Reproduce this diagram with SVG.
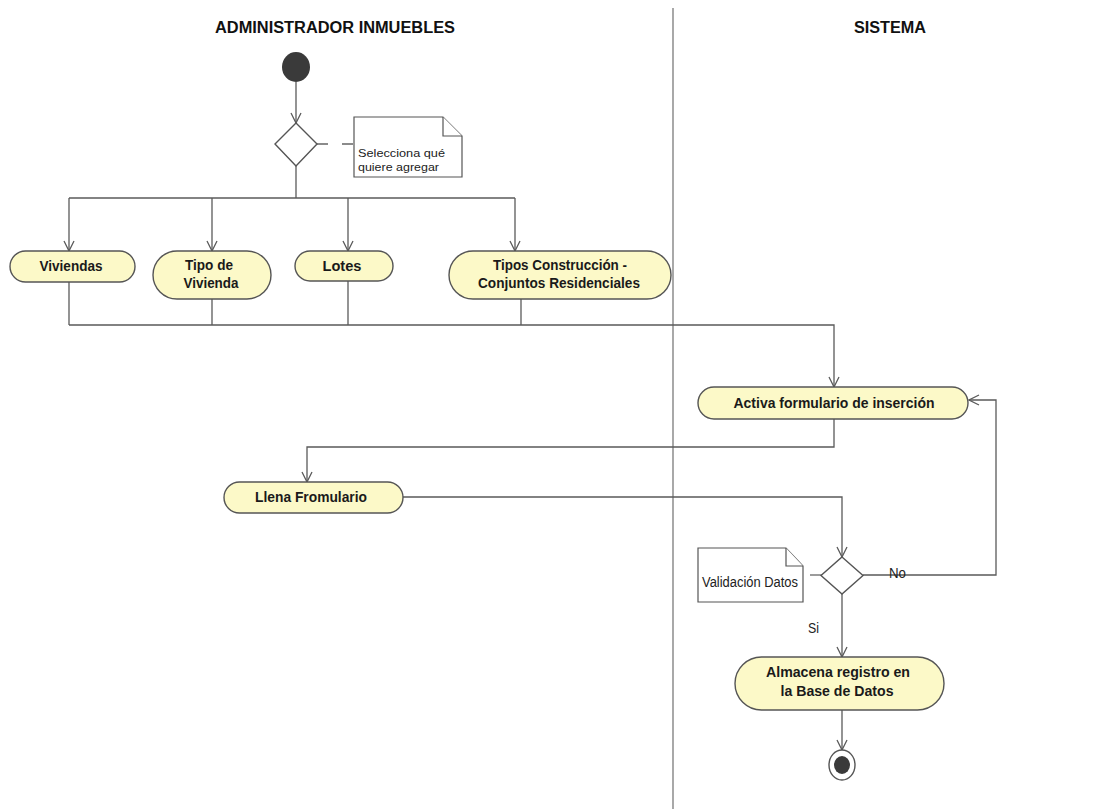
<svg xmlns="http://www.w3.org/2000/svg" width="1102" height="809" viewBox="0 0 1102 809">
<style>
.act{fill:#fcf9c8;stroke:#555;stroke-width:1.4}
.at{font-family:"Liberation Sans",Arial,sans-serif;font-weight:bold;font-size:15px;fill:#1a1a1a;text-anchor:middle}
.hd{font-family:"Liberation Sans",Arial,sans-serif;font-weight:bold;font-size:16px;fill:#111;text-anchor:middle}
.nt{font-family:"Liberation Sans",Arial,sans-serif;font-size:11px;fill:#222}
.lb{font-family:"Liberation Sans",Arial,sans-serif;font-size:14px;fill:#222}
.note{fill:#fff;stroke:#555;stroke-width:1.2}
.ln{fill:none;stroke:#5a5a5a;stroke-width:1.3}
.ar{fill:none;stroke:#5a5a5a;stroke-width:1.3;marker-end:url(#arr)}
.dash{fill:none;stroke:#666;stroke-width:1.3}
.dec{fill:#fff;stroke:#555;stroke-width:1.4}
</style>
<defs>
<marker id="arr" viewBox="0 0 12 12" refX="11" refY="6" markerWidth="12" markerHeight="12" markerUnits="userSpaceOnUse" orient="auto">
<path d="M1,1 L11,6 L1,11" fill="none" stroke="#5a5a5a" stroke-width="1.3"/>
</marker>
</defs>
<rect width="1102" height="809" fill="#fff"/>
<g id="lanes">
<line x1="673" y1="8" x2="673" y2="809" stroke="#7a7a7a" stroke-width="1.3"/>
<text class="hd" x="335" y="33" textLength="240" lengthAdjust="spacingAndGlyphs">ADMINISTRADOR INMUEBLES</text>
<text class="hd" x="890" y="33" textLength="72" lengthAdjust="spacingAndGlyphs">SISTEMA</text>
</g>
<g id="connectors">
<path class="ar" d="M296,82 V123"/>
<path class="ln" d="M296,166 V198"/>
<path class="ln" d="M69,198 H515"/>
<path class="ar" d="M69,198 V251"/>
<path class="ar" d="M212,198 V251"/>
<path class="ar" d="M348,198 V251"/>
<path class="ar" d="M515,198 V251"/>
<path class="ln" d="M69,282 V325"/>
<path class="ln" d="M212,299 V325"/>
<path class="ln" d="M348,281 V325"/>
<path class="ln" d="M521,299 V325"/>
<path class="ar" d="M69,325 H834 V387"/>
<path class="ar" d="M834,419 V447 H307 V482"/>
<path class="ar" d="M403,497 H842 V557"/>
<path class="ar" d="M863,575 H996 V400 H969"/>
<path class="ar" d="M842,594 V657"/>
<path class="ar" d="M842,710 V750"/>
<path class="dash" d="M317,144 H328 M342,144 H353"/>
<path class="dash" d="M810,575 H822"/>
<text class="lb" x="889" y="578" textLength="17" lengthAdjust="spacingAndGlyphs">No</text>
<text class="lb" x="808" y="633" textLength="11" lengthAdjust="spacingAndGlyphs">Si</text>
</g>
<g id="start">
<ellipse cx="296" cy="67" rx="14" ry="15" fill="#3a3a3a"/>
</g>
<g id="decision1">
<path class="dec" d="M296,123 L317,144 L296,166 L275,144 Z"/>
</g>
<g id="note1">
<path class="note" d="M354,117 H443 L462,136 V177 H354 Z"/>
<path class="note" d="M443,117 V136 H462" fill="none"/>
<text class="nt" x="358" y="157" textLength="87" lengthAdjust="spacingAndGlyphs">Selecciona qué</text>
<text class="nt" x="358" y="171" textLength="81" lengthAdjust="spacingAndGlyphs">quiere agregar</text>
</g>
<g id="viviendas">
<rect class="act" x="10" y="251" width="125" height="31" rx="15.5"/>
<text class="at" x="71" y="271" textLength="63" lengthAdjust="spacingAndGlyphs">Viviendas</text>
</g>
<g id="tipoVivienda">
<rect class="act" x="153" y="251" width="118" height="48" rx="24"/>
<text class="at" x="209" y="270" textLength="48" lengthAdjust="spacingAndGlyphs">Tipo de</text>
<text class="at" x="211" y="288" textLength="55" lengthAdjust="spacingAndGlyphs">Vivienda</text>
</g>
<g id="lotes">
<rect class="act" x="295" y="251" width="98" height="30" rx="15"/>
<text class="at" x="342" y="271" textLength="39" lengthAdjust="spacingAndGlyphs">Lotes</text>
</g>
<g id="tiposConstruccion">
<rect class="act" x="449" y="251" width="222" height="48" rx="24"/>
<text class="at" x="560" y="270" textLength="134" lengthAdjust="spacingAndGlyphs">Tipos Construcción -</text>
<text class="at" x="559" y="288" textLength="162" lengthAdjust="spacingAndGlyphs">Conjuntos Residenciales</text>
</g>
<g id="activaFormulario">
<rect class="act" x="698" y="387" width="270" height="32" rx="16"/>
<text class="at" x="834" y="408" textLength="201" lengthAdjust="spacingAndGlyphs">Activa formulario de inserción</text>
</g>
<g id="llenaFormulario">
<rect class="act" x="224" y="482" width="179" height="31" rx="15.5"/>
<text class="at" x="311" y="502" textLength="112" lengthAdjust="spacingAndGlyphs">Llena Fromulario</text>
</g>
<g id="decision2">
<path class="dec" d="M842,557 L863,575.5 L842,594 L821,575.5 Z"/>
</g>
<g id="note2">
<path class="note" d="M698,548 H786 L803,566 V602 H698 Z"/>
<path class="note" d="M786,548 V566 H803" fill="none"/>
<text class="lb" x="702" y="587" font-size="13" textLength="96" lengthAdjust="spacingAndGlyphs">Validación Datos</text>
</g>
<g id="almacena">
<rect class="act" x="735" y="657" width="209" height="53" rx="26.5"/>
<text class="at" x="838" y="677" textLength="144" lengthAdjust="spacingAndGlyphs">Almacena registro en</text>
<text class="at" x="837" y="696" textLength="113" lengthAdjust="spacingAndGlyphs">la Base de Datos</text>
</g>
<g id="end">
<ellipse cx="842" cy="765" rx="13" ry="15" fill="#fff" stroke="#555" stroke-width="1.4"/>
<ellipse cx="842" cy="765" rx="8" ry="9" fill="#3a3a3a"/>
</g>
</svg>
